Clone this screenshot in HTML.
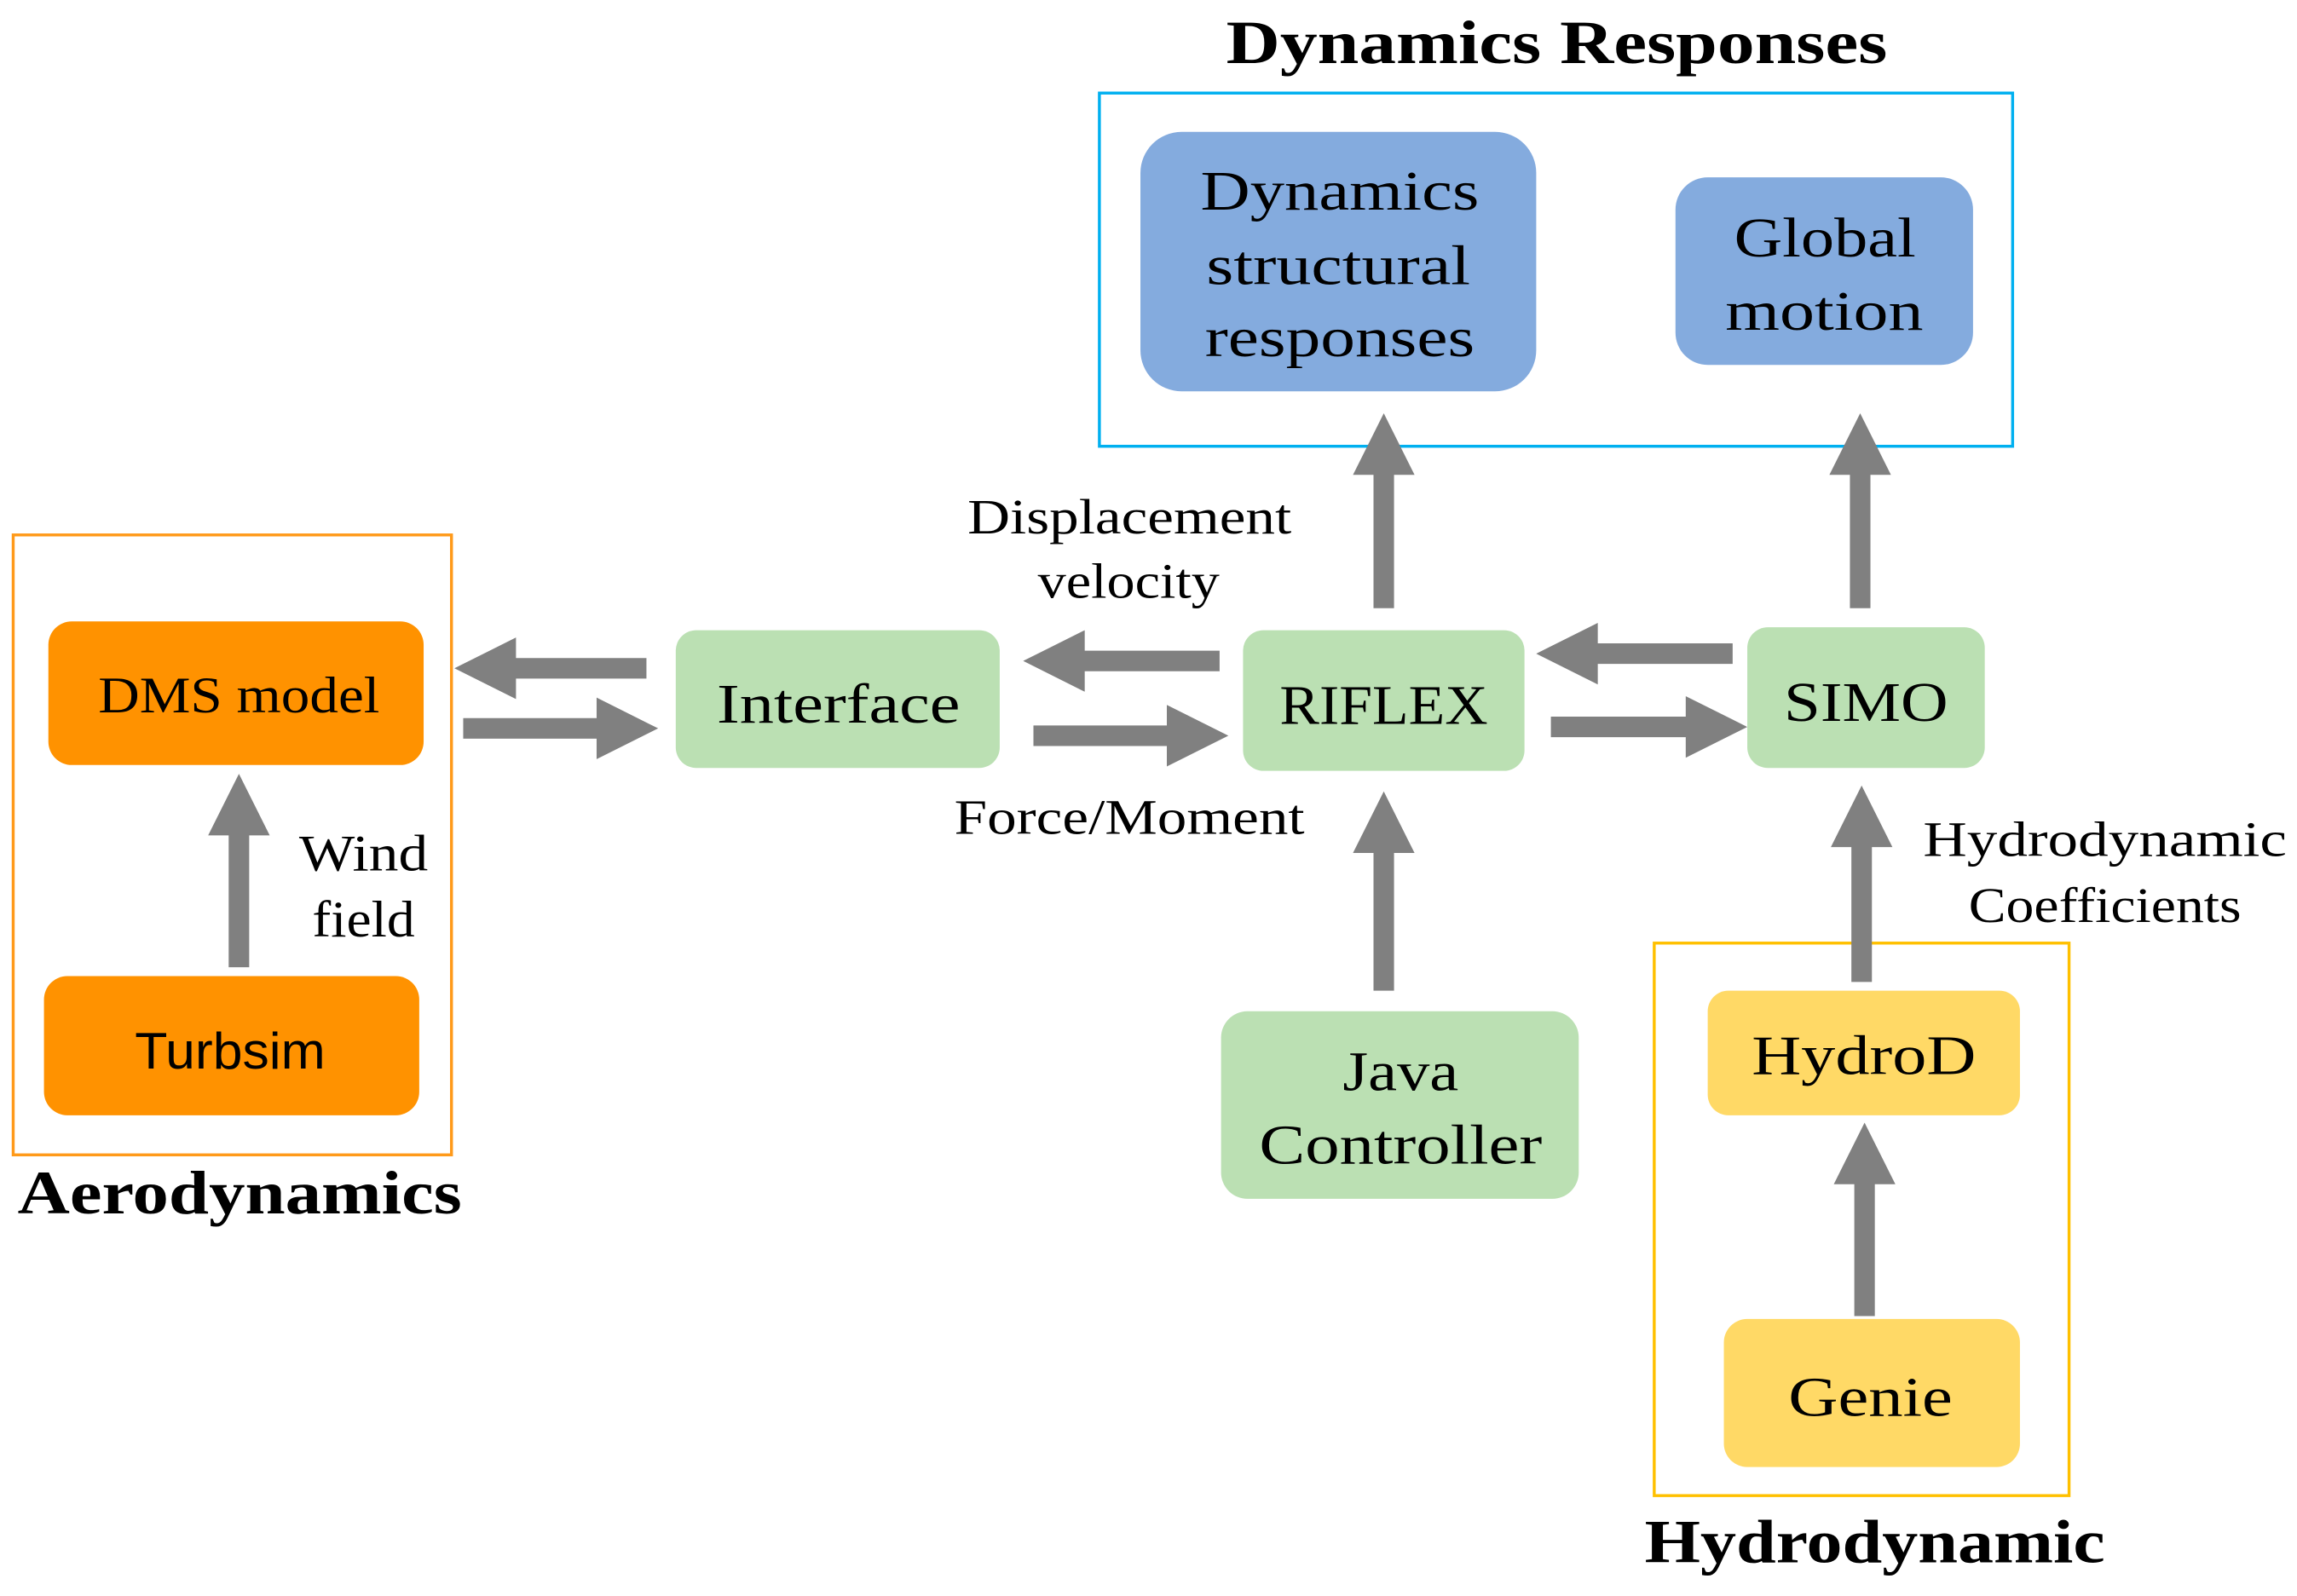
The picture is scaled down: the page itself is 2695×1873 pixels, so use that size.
<!DOCTYPE html>
<html><head><meta charset="utf-8"><style>
html,body{margin:0;padding:0;background:#fff;}
svg{display:block;}
text{font-family:"Liberation Serif",serif;fill:#000;}
</style></head><body>
<svg width="2695" height="1873" viewBox="0 0 1567 1089" preserveAspectRatio="none" xmlns="http://www.w3.org/2000/svg">
<!-- group boxes -->
<rect x="9" y="365" width="299" height="423" fill="none" stroke="#FF9A1A" stroke-width="2"/>
<rect x="750" y="63.5" width="623" height="241" fill="none" stroke="#00B0F0" stroke-width="2"/>
<rect x="1128.5" y="643.5" width="283" height="377" fill="none" stroke="#FFC000" stroke-width="2"/>

<!-- nodes -->
<rect x="33" y="424" width="256" height="98" rx="16" fill="#FF9200"/>
<rect x="30" y="666" width="256" height="95" rx="16" fill="#FF9200"/>
<rect x="461" y="430" width="221" height="94" rx="14" fill="#BBE0B3"/>
<rect x="848" y="430" width="192" height="96" rx="14" fill="#BBE0B3"/>
<rect x="1192" y="428" width="162" height="96" rx="14" fill="#BBE0B3"/>
<rect x="833" y="690" width="244" height="128" rx="18" fill="#BBE0B3"/>
<rect x="778" y="90" width="270" height="177" rx="28" fill="#84ABDE"/>
<rect x="1143" y="121" width="203" height="128" rx="22" fill="#84ABDE"/>
<rect x="1165" y="676" width="213" height="85" rx="14" fill="#FFD966"/>
<rect x="1176" y="900" width="202" height="101" rx="16" fill="#FFD966"/>

<!-- arrows -->
<g fill="#808080">
<polygon points="156,660 170,660 170,570 184,570 163,528 142,570 156,570"/>
<polygon points="937,415 951,415 951,324 965,324 944,282 923,324 937,324"/>
<polygon points="1262,415 1276,415 1276,324 1290,324 1269,282 1248,324 1262,324"/>
<polygon points="937,676 951,676 951,582 965,582 944,540 923,582 937,582"/>
<polygon points="1263,670 1277,670 1277,578 1291,578 1270,536 1249,578 1263,578"/>
<polygon points="1265,898 1279,898 1279,808 1293,808 1272,766 1251,808 1265,808"/>
<polygon points="310,456 352,435 352,449 441,449 441,463 352,463 352,477"/>
<polygon points="698,451 740,430 740,444 832,444 832,458 740,458 740,472"/>
<polygon points="1048,446 1090,425 1090,439 1182,439 1182,453 1090,453 1090,467"/>
<polygon points="449,497 407,476 407,490 316,490 316,504 407,504 407,518"/>
<polygon points="838,502 796,481 796,495 705,495 705,509 796,509 796,523"/>
<polygon points="1192,496 1150,475 1150,489 1058,489 1058,503 1150,503 1150,517"/>
</g>

<!-- titles -->
<text x="1062" y="43" font-size="42" font-weight="bold" text-anchor="middle" textLength="451" lengthAdjust="spacingAndGlyphs">Dynamics Responses</text>
<text x="12" y="828" font-size="42" font-weight="bold" textLength="303" lengthAdjust="spacingAndGlyphs">Aerodynamics</text>
<text x="1122" y="1066" font-size="42" font-weight="bold" textLength="314" lengthAdjust="spacingAndGlyphs">Hydrodynamic</text>

<!-- node labels -->
<text x="67" y="486" font-size="35" textLength="192" lengthAdjust="spacingAndGlyphs">DMS model</text>
<text x="92" y="729" font-size="35" style="font-family:'Liberation Sans',sans-serif" textLength="130" lengthAdjust="spacingAndGlyphs">Turbsim</text>
<text x="489" y="493" font-size="38" textLength="166" lengthAdjust="spacingAndGlyphs">Interface</text>
<text x="873" y="494" font-size="38" textLength="142" lengthAdjust="spacingAndGlyphs">RIFLEX</text>
<text x="1217" y="492" font-size="38" textLength="112" lengthAdjust="spacingAndGlyphs">SIMO</text>
<text x="819" y="143" font-size="38" textLength="190" lengthAdjust="spacingAndGlyphs">Dynamics</text>
<text x="823" y="194" font-size="38" textLength="180" lengthAdjust="spacingAndGlyphs">structural</text>
<text x="822" y="243" font-size="38" textLength="184" lengthAdjust="spacingAndGlyphs">responses</text>
<text x="1183" y="175" font-size="38" textLength="124" lengthAdjust="spacingAndGlyphs">Global</text>
<text x="1177" y="225" font-size="38" textLength="135" lengthAdjust="spacingAndGlyphs">motion</text>
<text x="916" y="744" font-size="38" textLength="79" lengthAdjust="spacingAndGlyphs">Java</text>
<text x="859" y="794" font-size="38" textLength="193" lengthAdjust="spacingAndGlyphs">Controller</text>
<text x="1195" y="733" font-size="38" textLength="153" lengthAdjust="spacingAndGlyphs">HydroD</text>
<text x="1220" y="966" font-size="38" textLength="112" lengthAdjust="spacingAndGlyphs">Genie</text>

<!-- edge labels -->
<text x="204" y="594" font-size="35" textLength="88" lengthAdjust="spacingAndGlyphs">Wind</text>
<text x="213" y="639" font-size="35" textLength="70" lengthAdjust="spacingAndGlyphs">field</text>
<text x="660" y="364" font-size="34" textLength="221" lengthAdjust="spacingAndGlyphs">Displacement</text>
<text x="708" y="408" font-size="34" textLength="124" lengthAdjust="spacingAndGlyphs">velocity</text>
<text x="651" y="569" font-size="34" textLength="239" lengthAdjust="spacingAndGlyphs">Force/Moment</text>
<text x="1312" y="584" font-size="34" textLength="248" lengthAdjust="spacingAndGlyphs">Hydrodynamic</text>
<text x="1343" y="629" font-size="34" textLength="186" lengthAdjust="spacingAndGlyphs">Coefficients</text>
</svg>
</body></html>
